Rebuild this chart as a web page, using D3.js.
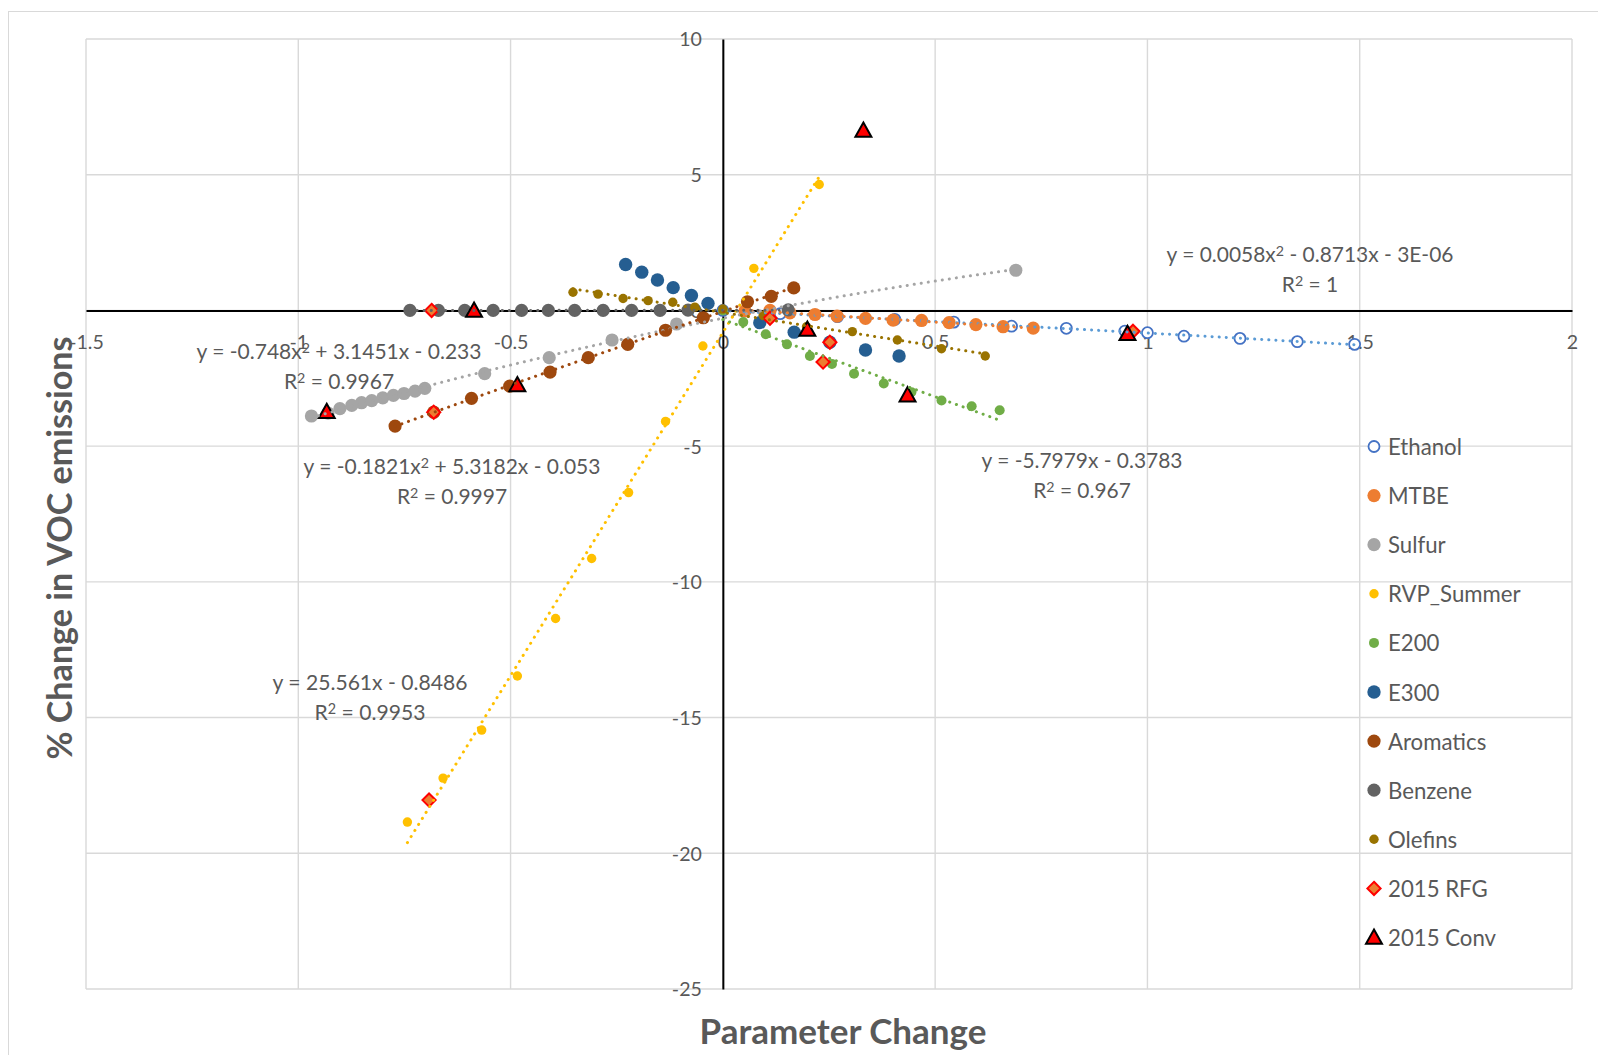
<!DOCTYPE html>
<html><head><meta charset="utf-8">
<script src="https://cdn.jsdelivr.net/npm/d3@7"></script>
<style>body{margin:0;background:#fff}svg{display:block}</style>
</head><body><svg id="c" width="1598" height="1055"></svg>
<script>
// ---------- DATA ----------
const seriesNames = ["Ethanol","MTBE","Sulfur","RVP_Summer","E200","E300","Aromatics","Benzene","Olefins","2015 RFG","2015 Conv"];
const ethanolX = [0, 0.135, 0.27, 0.405, 0.544, 0.68, 0.809, 0.947, 1.0, 1.086, 1.218, 1.353, 1.488];
const ethanolY = [0, -0.12, -0.23, -0.33, -0.43, -0.58, -0.66, -0.76, -0.82, -0.95, -1.03, -1.15, -1.25];
const mtbeX = [0.052, 0.111, 0.158, 0.217, 0.269, 0.336, 0.401, 0.468, 0.533, 0.596, 0.660, 0.731];
const mtbeY = [-0.02, 0.0, -0.09, -0.15, -0.21, -0.29, -0.36, -0.37, -0.45, -0.52, -0.60, -0.65];
const sulfurX = [-0.969, -0.930, -0.902, -0.874, -0.851, -0.827, -0.801, -0.776, -0.751, -0.725, -0.702, -0.561, -0.409, -0.261, -0.109, 0.69];
const sulfurY = [-3.89, -3.78, -3.62, -3.50, -3.40, -3.32, -3.22, -3.13, -3.06, -2.97, -2.87, -2.33, -1.74, -1.09, -0.50, 1.48];
const rvpX = [-0.743, -0.659, -0.568, -0.484, -0.394, -0.309, -0.222, -0.135, -0.047, 0.073, 0.227];
const rvpY = [-18.85, -17.23, -15.46, -13.47, -11.35, -9.14, -6.71, -4.09, -1.31, 1.55, 4.64];
const e200X = [0, 0.048, 0.101, 0.151, 0.205, 0.257, 0.309, 0.379, 0.444, 0.515, 0.586, 0.652];
const e200Y = [0, -0.43, -0.88, -1.25, -1.68, -1.97, -2.33, -2.69, -3.01, -3.32, -3.53, -3.68];
const e300X = [-0.229, -0.191, -0.154, -0.117, -0.074, -0.035, 0.087, 0.168, 0.252, 0.336, 0.415];
const e300Y = [1.69, 1.41, 1.12, 0.84, 0.55, 0.26, -0.45, -0.80, -1.17, -1.46, -1.68];
const aromaticsX = [-0.772, -0.681, -0.592, -0.502, -0.407, -0.317, -0.224, -0.135, -0.046, 0.058, 0.114, 0.167];
const aromaticsY = [-4.26, -3.75, -3.24, -2.79, -2.27, -1.74, -1.25, -0.73, -0.27, 0.32, 0.52, 0.83];
const benzeneX = [-0.737, -0.670, -0.608, -0.541, -0.474, -0.411, -0.349, -0.282, -0.215, -0.148, -0.082, 0.154];
const benzeneY = [0, 0, 0, 0, 0, 0, 0, 0, 0, 0, 0.01, 0.02];
const olefinsX = [-0.353, -0.294, -0.235, -0.176, -0.118, -0.066, 0.0, 0.095, 0.197, 0.305, 0.411, 0.515, 0.618];
const olefinsY = [0.67, 0.60, 0.44, 0.36, 0.30, 0.12, 0.05, -0.18, -0.60, -0.78, -1.09, -1.41, -1.68];
const rfgX = [-0.686, -0.681, -0.692, 0.111, 0.236, 0.252, 0.966];
const rfgY = [0.0, -3.75, -18.04, -0.29, -1.90, -1.17, -0.77];
const convX = [-0.933, -0.586, -0.484, 0.199, 0.331, 0.435, 0.953];
const convY = [-3.73, 0.0, -2.75, -0.70, 6.63, -3.12, -0.86];
const trendDegree = [2, 1, 2, 1, 1, 0, 2, 1, 1, 0, 0]; // 0 = no trendline
const xTicks = [-1.5, -1, -0.5, 0, 0.5, 1, 1.5, 2];
const yTicks = [-25, -20, -15, -10, -5, 0, 5, 10];
const eqLines = [
  ["y = 0.0058x^2 - 0.8713x - 3E-06", "R^2 = 1"],
  ["y = -0.748x^2 + 3.1451x - 0.233", "R^2 = 0.9967"],
  ["y = -0.1821x^2 + 5.3182x - 0.053", "R^2 = 0.9997"],
  ["y = 25.561x - 0.8486", "R^2 = 0.9953"],
  ["y = -5.7979x - 0.3783", "R^2 = 0.967"]
];
const xTitle = "Parameter Change";
const yTitle = "% Change in VOC emissions";

// ---------- STYLE / LAYOUT ----------
const seriesXs = [ethanolX, mtbeX, sulfurX, rvpX, e200X, e300X, aromaticsX, benzeneX, olefinsX, rfgX, convX];
const seriesYs = [ethanolY, mtbeY, sulfurY, rvpY, e200Y, e300Y, aromaticsY, benzeneY, olefinsY, rfgY, convY];
const styles = [
  {shape:"circle", r:5.5, fill:"#fff", stroke:"#4472c4", sw:1.8, trend:"#5b9bd5"},
  {shape:"circle", r:6.6, fill:"#ed7d31", trend:"#ed7d31"},
  {shape:"circle", r:6.6, fill:"#a5a5a5", trend:"#a5a5a5"},
  {shape:"circle", r:4.7, fill:"#ffc000", trend:"#ffc000"},
  {shape:"circle", r:5.0, fill:"#70ad47", trend:"#70ad47"},
  {shape:"circle", r:6.7, fill:"#255e91", trend:"#255e91"},
  {shape:"circle", r:6.6, fill:"#9e480e", trend:"#9e480e"},
  {shape:"circle", r:6.6, fill:"#636363", trend:"#636363"},
  {shape:"circle", r:4.7, fill:"#997300", trend:"#997300"},
  {shape:"diamond", r:6.6, fill:"#ed7d31", stroke:"#ff0000", sw:2},
  {shape:"triangle", r:8.4, fill:"#ff0000", stroke:"#000", sw:2}
];
const eqLayout = [
  {cx:1310, cy:255, w:287},
  {cx:339, cy:352, w:285},
  {cx:452, cy:467, w:297},
  {cx:370, cy:683, w:195},
  {cx:1082, cy:461, w:201}
];
const legendLayout = {x:1374, tx:1388, y0:446.5, dy:49.1};
const textColor = "#595959", font = "Lato, 'Open Sans', sans-serif";

const svg = d3.select("#c");
const x = d3.scaleLinear().domain([-1.5, 2]).range([86, 1572]);
const y = d3.scaleLinear().domain([-25, 10]).range([989, 39]);

function fitWidth(sel, w){
  const L = sel.node().getComputedTextLength();
  const fs = parseFloat(sel.attr("font-size"));
  const nf = fs * w / L; sel.attr("font-size", nf); return nf;
}
// writes text where "^2" becomes a raised smaller "2"
function richText(t, s){
  s.split("^2").forEach((part, i) => {
    if (i > 0) t.append("tspan").attr("font-size", "0.68em").attr("dy", "-0.45em").text("2");
    if (part) {
      const ts = t.append("tspan").text(part);
      if (i > 0) ts.attr("dy", "0.306em");
    }
  });
}

// chart border
svg.append("rect").attr("x", 8.5).attr("y", 11.5).attr("width", 1620).attr("height", 1100)
  .attr("fill", "none").attr("stroke", "#d9d9d9").attr("stroke-width", 1);

// gridlines
const grid = svg.append("g").attr("stroke", "#d9d9d9").attr("stroke-width", 1.4);
grid.selectAll(".vx").data(xTicks).join("line")
  .attr("x1", d => x(d)).attr("x2", d => x(d)).attr("y1", y(10)).attr("y2", y(-25));
grid.selectAll(".hy").data(yTicks).join("line")
  .attr("y1", d => y(d)).attr("y2", d => y(d)).attr("x1", x(-1.5)).attr("x2", x(2));

// axes
const fmt = d => String(d);
const xAxis = svg.append("g").attr("transform", `translate(0,${y(0)})`)
  .call(d3.axisBottom(x).tickValues(xTicks).tickSize(0).tickSizeOuter(0).tickFormat(fmt));
const yAxis = svg.append("g").attr("transform", `translate(${x(0)},0)`)
  .call(d3.axisLeft(y).tickValues(yTicks).tickSize(0).tickSizeOuter(0).tickFormat(fmt));
[xAxis, yAxis].forEach(a => {
  a.select(".domain").attr("stroke", "#000").attr("stroke-width", 2);
  a.selectAll("text").attr("font-family", font).attr("font-size", 20).attr("fill", textColor);
});
xAxis.selectAll("text").attr("y", 32).attr("dy", "0.35em");
yAxis.selectAll("text").attr("x", -21).attr("dy", "0.35em");
{
  const t = yAxis.selectAll("text").filter(d => d === -25);
  const fs = fitWidth(t, 30);
  xAxis.selectAll("text").attr("font-size", fs);
  yAxis.selectAll("text").attr("font-size", fs);
}

// markers
const symGen = {
  diamond: r => `M0,${-r}L${r},0L0,${r}L${-r},0Z`,
  triangle: r => `M0,${-r*0.95}L${r*0.95},${r*0.75}L${-r*0.95},${r*0.75}Z`
};
function drawMarker(g, st, px, py){
  if (st.shape === "circle") {
    g.append("circle").attr("cx", px).attr("cy", py).attr("r", st.r)
      .attr("fill", st.fill).attr("stroke", st.stroke || "none").attr("stroke-width", st.sw || 0);
  } else {
    g.append("path").attr("d", symGen[st.shape](st.r)).attr("transform", `translate(${px},${py})`)
      .attr("fill", st.fill).attr("stroke", st.stroke).attr("stroke-width", st.sw).attr("stroke-linejoin", "miter");
  }
}
const marks = svg.append("g");
seriesNames.forEach((name, i) => {
  const g = marks.append("g").attr("class", "series-" + i);
  seriesXs[i].forEach((xv, k) => drawMarker(g, styles[i], x(xv), y(seriesYs[i][k])));
});

// trendlines (least squares)
function polyfit(xs, ys, deg){
  const n = deg + 1;
  const A = Array.from({length:n}, () => Array(n + 1).fill(0));
  xs.forEach((xv, k) => {
    for (let r = 0; r < n; r++) {
      for (let c = 0; c < n; c++) A[r][c] += Math.pow(xv, r + c);
      A[r][n] += ys[k] * Math.pow(xv, r);
    }
  });
  for (let c = 0; c < n; c++) {
    let p = c; for (let r = c + 1; r < n; r++) if (Math.abs(A[r][c]) > Math.abs(A[p][c])) p = r;
    [A[c], A[p]] = [A[p], A[c]];
    for (let r = 0; r < n; r++) if (r !== c) {
      const f = A[r][c] / A[c][c];
      for (let k = c; k <= n; k++) A[r][k] -= f * A[c][k];
    }
  }
  return A.map((row, i) => row[n] / row[i]);
}
const trends = svg.append("g");
seriesNames.forEach((name, i) => {
  const deg = trendDegree[i]; if (!deg) return;
  const coef = polyfit(seriesXs[i], seriesYs[i], deg);
  const [x0, x1] = d3.extent(seriesXs[i]);
  const pts = d3.range(0, 101).map(k => {
    const xv = x0 + (x1 - x0) * k / 100;
    return [xv, coef.reduce((s, c, j) => s + c * Math.pow(xv, j), 0)];
  });
  trends.append("path").datum(pts)
    .attr("d", d3.line().x(d => x(d[0])).y(d => y(d[1])))
    .attr("fill", "none").attr("stroke", styles[i].trend).attr("stroke-width", 3)
    .attr("stroke-linecap", "round").attr("stroke-dasharray", "0.1 7");
});

// equation labels
const eqG = svg.append("g").attr("font-family", font).attr("fill", textColor);
eqLines.forEach((lines, i) => {
  const L = eqLayout[i];
  const t1 = eqG.append("text").attr("x", L.cx).attr("y", L.cy + 7).attr("text-anchor", "middle")
    .attr("font-size", 20);
  richText(t1, lines[0]);
  const fs = fitWidth(t1, L.w);
  const t2 = eqG.append("text").attr("x", L.cx).attr("y", L.cy + 37).attr("text-anchor", "middle")
    .attr("font-size", fs);
  richText(t2, lines[1]);
});

// legend
const leg = svg.append("g").attr("font-family", font).attr("fill", textColor);
let legFs = 20;
seriesNames.forEach((name, i) => {
  const cy = legendLayout.y0 + i * legendLayout.dy;
  drawMarker(leg, styles[i], legendLayout.x, cy);
  const t = leg.append("text").attr("x", legendLayout.tx).attr("y", cy).attr("dominant-baseline", "central")
    .attr("font-size", legFs).text(name);
  if (i === 0) legFs = fitWidth(t, 74);
});

// axis titles
const xt = svg.append("text").attr("x", 843).attr("y", 1030).attr("text-anchor", "middle")
  .attr("dominant-baseline", "central").attr("font-family", font).attr("font-weight", "bold")
  .attr("fill", textColor).attr("font-size", 30).text(xTitle);
fitWidth(xt, 287);
const yt = svg.append("text").attr("transform", "translate(58,548) rotate(-90)").attr("text-anchor", "middle")
  .attr("dominant-baseline", "central").attr("font-family", font).attr("font-weight", "bold")
  .attr("fill", textColor).attr("font-size", 30).text(yTitle);
fitWidth(yt, 423);
</script></body></html>
